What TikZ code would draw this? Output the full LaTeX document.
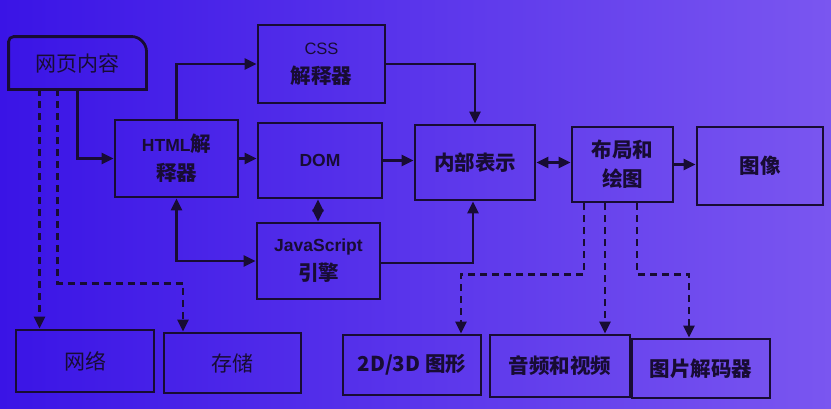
\documentclass[tikz,border=0pt]{standalone}
\usepackage{fontspec}
\setmainfont{Noto Sans CJK SC}
\newfontfamily\latb{Liberation Sans Bold}
\newfontfamily\latr{Liberation Sans}
\usetikzlibrary{arrows.meta,calc}
\definecolor{bgl}{RGB}{58,20,230}
\definecolor{bgr}{RGB}{122,86,240}
\definecolor{ink}{RGB}{24,12,52}
\tikzset{
  box/.style={draw=ink, line width=2.8pt, minimum width=#1, inner sep=0pt, align=center,
    text=ink, font=\bfseries\fontsize{20.5}{29}\selectfont},
  arr/.style={draw=ink, line width=2.6pt, -{Triangle[length=12pt,width=11pt]}},
  darr/.style={draw=ink, line width=2.6pt, {Triangle[length=12pt,width=11pt]}-{Triangle[length=12pt,width=11pt]}},
  dasharr/.style={draw=ink, line width=2.5pt, dash pattern=on 7pt off 5pt, -{Triangle[length=12pt,width=11pt]}}
}
\newcommand{\lt}[1]{{\latb\mdseries\fontsize{17.5}{20}\selectfont #1}}
\begin{document}
\begin{tikzpicture}[x=1pt,y=-1pt]
\shade[left color=bgl, right color=bgr] (0,0) rectangle (831,408);
\useasboundingbox (0,0) rectangle (831,408);

\node[box=135pt, minimum height=50pt, draw=none, font=\fontsize{21}{24}\selectfont] (web) at (77.5,63) {网页内容};
\draw[ink, line width=2.8pt] (web.south west) [rounded corners=5pt] -- (web.north west) -- ([xshift=-9pt]web.north east) -- ([yshift=-9pt]web.north east) [sharp corners] -- (web.south east) -- cycle;

\node[box=127pt, minimum height=78pt] (css) at (321.5,64) {{\latr\mdseries\fontsize{16.5}{20}\selectfont CSS}\\解释器};
\node[box=123pt, minimum height=77pt] (html) at (176.5,158.5) {\lt{HTML}解\\释器};
\node[box=124pt, minimum height=75pt] (dom) at (320,160.5) {\lt{DOM}};
\node[box=123pt, minimum height=76pt] (js) at (318.5,261) {\lt{JavaScript}\\引擎};
\node[box=120pt, minimum height=75pt] (inner) at (475,162.5) {内部表示};
\node[box=101pt, minimum height=75pt] (layout) at (622.5,164.5) {布局和\\绘图};
\node[box=126pt, minimum height=78pt] (image) at (760,166) {图像};

\node[box=138pt, minimum height=62pt, font=\fontsize{21}{24}\selectfont] (net) at (85,361) {网络};
\node[box=137pt, minimum height=60pt, font=\fontsize{21}{24}\selectfont] (store) at (232.5,363) {存储};
\node[box=138pt, minimum height=60pt] (g2d) at (412,365) {2D/3D 图形};
\node[box=140pt, minimum height=62pt] (av) at (560,366) {音频和视频};
\node[box=138pt, minimum height=59pt] (dec) at (701,368.5) {图片解码器};

% solid connectors
\draw[arr] (web.south) |- (html.west);
\draw[arr] (html.north) |- (css.west);
\draw[darr] (html.south) |- (js.west);
\draw[arr] (html.east) -- (html.east -| dom.west);
\draw[darr] ([xshift=-2pt]dom.south) -- ([xshift=-2pt]dom.south |- js.north);
\draw[arr] (dom.east) -- (dom.east -| inner.west);
\draw[arr] (css.east) -| (inner.north);
\draw[arr] ([yshift=-2pt]js.east) -| ([xshift=-2pt]inner.south);
\draw[darr] (inner.east) -- (inner.east -| layout.west);
\draw[arr] (layout.east) -- (layout.east -| image.west);

% dashed connectors
\draw[dasharr] ([xshift=-38.5pt]layout.south) |- ++(0,71) -| ([xshift=49pt]g2d.north);
\draw[dasharr] ([xshift=-17.5pt]layout.south) -- ([xshift=-17.5pt]layout.south |- av.north);
\draw[dasharr] ([xshift=14.5pt]layout.south) |- ++(0,71) -| ([xshift=-12pt]dec.north);
\draw[dasharr] ([xshift=-38pt]web.south) -- ([xshift=-38pt]web.south |- net.north);
\draw[dasharr] ([xshift=-20pt]web.south) |- ++(0,194) -| ([xshift=-49.5pt]store.north);
\end{tikzpicture}
\end{document}
